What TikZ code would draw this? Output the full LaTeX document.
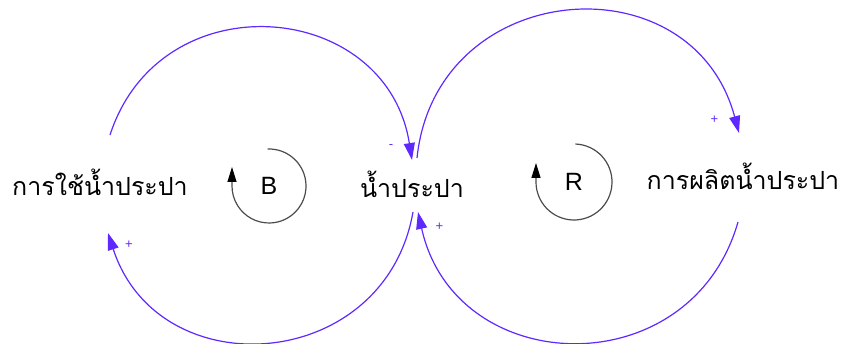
\documentclass[tikz,border=0pt]{standalone}
\usepackage{fontspec}
\setmainfont{Liberation Sans}
\newfontfamily\thaifont[Script=Thai]{Loma}
\usetikzlibrary{arrows.meta}
\definecolor{linkc}{RGB}{95,40,255}

\begin{document}
\begin{tikzpicture}[x=1pt,y=1pt,
 v/.style={font=\thaifont\fontsize{25}{27}\selectfont,anchor=base,inner sep=0pt},
 lk/.style={draw=linkc,line width=1.2pt,-{Triangle[length=17pt,width=11pt]}},
 pol/.style={text=linkc,font=\fontsize{13}{14}\selectfont,inner sep=0pt},
 lp/.style={draw=black!70,line width=1.2pt,-{Triangle[length=15pt,width=9pt,color=black]}},
 lt/.style={font=\fontsize{25}{28}\selectfont,inner sep=0pt}]
\useasboundingbox (0,0) rectangle (846,343);
\node[v] (use) at (100,147) {การใช้น้ำประปา};
\node[v] (wat) at (412,145) {น้ำประปา};
\node[v] (prd) at (743,153) {การผลิตน้ำประปา};
\node[lt] (bl) at (269,157) {B};
\node[lt] (rf) at (574,161) {R};
% balancing loop
\draw[lk] ([shift={(10,61)}]use.base) to[out=72,in=99,looseness=1.38] node[pol,pos=.96,xshift=-17,yshift=-5]{-} ([shift={(0,38)}]wat.base);
\draw[lk] ([shift={(1,-14)}]wat.base) to[out=260,in=288,looseness=1.37] node[pol,pos=.96,xshift=14,yshift=6]{+} ([shift={(8,-37)}]use.base);
% reinforcing loop
\draw[lk] ([shift={(5,40)}]wat.base) to[out=84,in=105,looseness=1.44] node[pol,pos=.96,xshift=-18,yshift=-7]{+} ([shift={(-4,57)}]prd.base);
\draw[lk] ([shift={(-5,-32)}]prd.base) to[out=254,in=282.5,looseness=1.37] node[pol,pos=.96,xshift=16,yshift=5]{+} ([shift={(6,-14)}]wat.base);
% loop markers
\draw[lp] ([shift={(92:37)}]bl.center) arc[start angle=92,end angle=-180,radius=37] -- ++(0,19);
\draw[lp] ([shift={(88:38)}]rf.center) arc[start angle=88,end angle=-180,radius=38] -- ++(0,19);
\end{tikzpicture}
\end{document}
